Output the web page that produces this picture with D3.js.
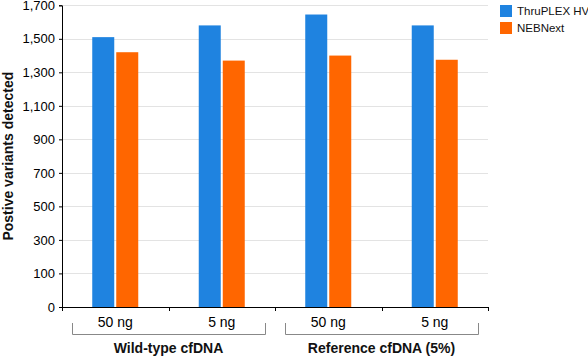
<!DOCTYPE html>
<html><head><meta charset="utf-8">
<script src="https://cdn.jsdelivr.net/npm/d3@7"></script>
<style>
html,body{margin:0;padding:0;background:#fff;}
svg{display:block;font-family:"Liberation Sans",Arial,Helvetica,sans-serif;}
</style></head>
<body>
<svg id="c" width="588" height="356"></svg>
<script>
const categories = ["50 ng","5 ng","50 ng","5 ng"];
const groups = ["Wild-type cfDNA","Reference cfDNA (5%)"];
const seriesNames = ["ThruPLEX HV","NEBNext"];
const thruplex = [1510,1580,1645,1580];
const nebnext = [1420,1370,1400,1375];
const yTicks = [0,100,300,500,700,900,1100,1300,1500,1700];
const colors = ["#1f83e0","#ff6600"];

const svg = d3.select("#c");
const L = 62, R = 488, T = 5.3, B = 307;
const y = d3.scaleLinear().domain([0,100,1700]).range([B,273.4,T]);
const x0 = d3.scaleBand().domain(d3.range(categories.length)).range([L,R]).paddingInner(0.568).paddingOuter(0.284);
const x1 = d3.scaleBand().domain([0,1]).range([0,x0.bandwidth()]).paddingInner(0.0833);

// gridlines
svg.append("g").selectAll("line").data(yTicks.filter(d=>d>0)).join("line")
  .attr("x1",L).attr("x2",R).attr("y1",d=>Math.round(y(d))+0.5).attr("y2",d=>Math.round(y(d))+0.5)
  .attr("stroke","#e3e3e3").attr("stroke-width",1);

// bars
const series = [thruplex, nebnext];
const g = svg.append("g");
categories.forEach((c,i)=>{
  series.forEach((s,j)=>{
    g.append("rect")
      .attr("x",x0(i)+x1(j)).attr("width",x1.bandwidth())
      .attr("y",y(s[i])).attr("height",y(0)-y(s[i]))
      .attr("fill",colors[j]);
  });
});

// y axis
const yAxis = svg.append("g").attr("transform",`translate(${L},0)`)
  .call(d3.axisLeft(y).tickValues(yTicks).tickFormat(d3.format(",")).tickSize(3).tickPadding(4));
yAxis.select(".domain").attr("stroke","#000");
yAxis.selectAll(".tick line").attr("stroke","#000");
yAxis.selectAll("text").attr("font-size",13).attr("fill","#000").style("font-family","'Liberation Sans',Arial,sans-serif");

// x axis
const xBand = d3.scaleBand().domain(d3.range(categories.length)).range([L,R]);
const xAxisG = svg.append("g").attr("transform",`translate(0,${B})`);
xAxisG.append("line").attr("x1",L).attr("x2",R).attr("y1",0.5).attr("y2",0.5).attr("stroke","#000");
xAxisG.selectAll("line.t").data(d3.range(categories.length+1)).join("line").attr("class","t")
  .attr("x1",d=>Math.round(L+d*xBand.step())+0.5).attr("x2",d=>Math.round(L+d*xBand.step())+0.5)
  .attr("y1",0).attr("y2",4).attr("stroke","#000");
xAxisG.selectAll("text").data(categories).join("text")
  .attr("x",(d,i)=>xBand(i)+xBand.bandwidth()/2).attr("y",19.5)
  .attr("text-anchor","middle").attr("font-size",14).attr("fill","#000").text(d=>d);

// group brackets
groups.forEach((gname,k)=>{
  const a = xBand(k*2)+10, b = xBand(k*2+1)+xBand.bandwidth()-10;
  svg.append("path").attr("d",`M${a+0.5},323V334.5H${b+0.5}V323`)
    .attr("fill","none").attr("stroke","#888").attr("stroke-width",1);
  svg.append("text").attr("x",(xBand(k*2)+xBand(k*2+1)+xBand.bandwidth())/2).attr("y",353)
    .attr("text-anchor","middle").attr("font-size",14).attr("font-weight","bold").attr("fill","#111").text(gname);
});

// y label
svg.append("text").attr("transform",`translate(13,${(T+B)/2}) rotate(-90)`)
  .attr("text-anchor","middle").attr("font-size",14).attr("font-weight","bold").attr("fill","#111")
  .text("Postive variants detected");

// legend
const lg = svg.append("g").attr("transform","translate(500,5)");
seriesNames.forEach((n,j)=>{
  lg.append("rect").attr("x",0).attr("y",j*17).attr("width",12).attr("height",12).attr("fill",colors[j]);
  lg.append("text").attr("x",17).attr("y",j*17+10).attr("font-size",11.5).attr("fill","#111").text(n);
});
</script>
</body></html>
